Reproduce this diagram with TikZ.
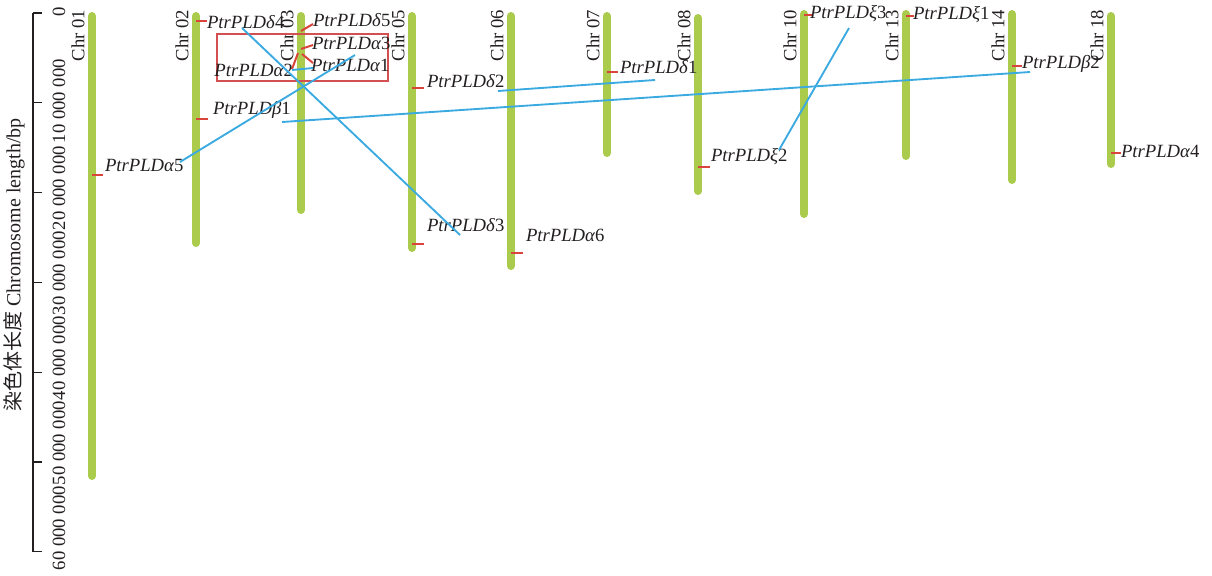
\documentclass[tikz,border=0pt]{standalone}
\usepackage{fontspec}
\setmainfont{Liberation Serif}
\newfontfamily\cjk{Noto Sans CJK SC}
\definecolor{chrgreen}{HTML}{AACB4C}
\definecolor{genered}{HTML}{D9443C}
\definecolor{synblue}{HTML}{3BAAE0}
\definecolor{boxred}{HTML}{D45050}
\definecolor{txt}{HTML}{231F20}
\newcommand{\chrdraw}[5]{% id, x, top, bottom, label
  \coordinate (#1t) at (#2,#3+4);
  \coordinate (#1b) at (#2,#4-4);
  \draw[chrom] (#1t) -- (#1b);
  \node[chrlab] (#1l) at (#2-14,10) {#5};
}
\newcommand{\gene}[8]{% id, x0, y0, x1, y1, labelx, labely, text
  \coordinate (#1s) at (#2,#3);
  \coordinate (#1e) at (#4,#5);
  \draw[gtick] (#1s) -- (#1e);
  \node[gname] (#1) at (#6,#7) {#8};
}
\newcommand{\pld}[2]{PtrPLD#1\textup{#2}}
\begin{document}
\begin{tikzpicture}[x=0.75pt,y=-0.75pt,
  every node/.style={inner sep=0pt, outer sep=0pt, text=txt},
  chrom/.style={line width=6pt, line cap=round, draw=chrgreen},
  gtick/.style={line width=1.5pt, draw=genered},
  gname/.style={font=\fontsize{14}{16}\selectfont\itshape, anchor=west},
  chrlab/.style={font=\fontsize{14}{16}\selectfont, rotate=90, anchor=east},
  ticklab/.style={font=\fontsize{14}{16}\selectfont, rotate=90},
  syn/.style={line width=1.4pt, draw=synblue},
  axisline/.style={line width=0.8pt, draw=txt},
]
\useasboundingbox (0,0) rectangle (1212,575);

% axis
\coordinate (axt) at (33,13);
\coordinate (axb) at (33,552);
\draw[axisline] (axt) -- (axb);
\foreach \i in {0,...,6} {
  \draw[axisline] (33,13+89.8*\i) -- (42,13+89.8*\i);
}
\node[ticklab] (t0) at (59,12) {0};
\node[ticklab] (t1) at (59,101) {10 000 000};
\node[ticklab] (t2) at (59,188) {20 000 000};
\node[ticklab] (t3) at (59,273) {30 000 000};
\node[ticklab] (t4) at (59,358) {40 000 000};
\node[ticklab] (t5) at (59,443) {50 000 000};
\node[ticklab] (t6) at (59,528) {60 000 000};
\node[ticklab, font=\fontsize{15}{17}\selectfont] (ytitle) at (14,265) {{\cjk 染色体长度} Chromosome length/bp};

% chromosomes
\chrdraw{c01}{92}{12}{480}{Chr 01}
\chrdraw{c02}{196}{12}{247}{Chr 02}
\chrdraw{c03}{301}{12}{214}{Chr 03}
\chrdraw{c05}{412}{12}{252}{Chr 05}
\chrdraw{c06}{511}{12}{270}{Chr 06}
\chrdraw{c07}{607}{12}{157}{Chr 07}
\chrdraw{c08}{698}{14}{195}{Chr 08}
\chrdraw{c10}{804}{10}{218}{Chr 10}
\chrdraw{c13}{906}{10}{160}{Chr 13}
\chrdraw{c14}{1012}{10}{184}{Chr 14}
\chrdraw{c18}{1111}{12}{168}{Chr 18}

% red box
\node[draw=boxred, line width=0.8pt, minimum width=171*0.75pt, minimum height=47*0.75pt, anchor=north west] (box) at (217,34) {};

% genes
\gene{a5}{92}{175}{103}{175}{105}{165}{\pld{α}{5}}
\gene{b1}{196}{119}{208}{119}{213}{110}{\pld{β}{1}}
\gene{d4}{196}{21}{207}{21}{207}{22}{\pld{δ}{4}}
\gene{d5}{301}{31}{313}{24}{313}{20}{\pld{δ}{5}}
\gene{a3}{301}{49}{313}{45}{312}{43}{\pld{α}{3}}
\gene{a1}{302}{54}{313}{63}{311}{65}{\pld{α}{1}}
\coordinate (a2s) at (298,53);
\coordinate (a2e) at (292,69);
\draw[gtick] (a2s) -- (a2e);
\node[gname, anchor=east] (a2) at (293,70) {\pld{α}{2}};
\gene{d2}{412}{88}{424}{88}{427}{81}{\pld{δ}{2}}
\gene{d3}{412}{244}{424}{244}{427}{225}{\pld{δ}{3}}
\gene{a6}{511}{253}{523}{253}{526}{235}{\pld{α}{6}}
\gene{d1}{607}{72}{618}{72}{620}{67}{\pld{δ}{1}}
\gene{x2}{698}{167}{710}{167}{711}{157}{\pld{ξ}{2}}
\gene{x3}{804}{15}{812}{15}{810}{14}{\pld{ξ}{3}}
\gene{x1}{906}{16}{914}{16}{913}{15}{\pld{ξ}{1}}
\gene{b2}{1012}{66}{1022}{66}{1022}{64}{\pld{β}{2}}
\gene{a4}{1111}{153}{1121}{153}{1121}{151}{\pld{α}{4}}

% synteny links
\coordinate (ld4) at (242,28);  \coordinate (ld3) at (460,235);
\coordinate (la5) at (180,162); \coordinate (la1) at (355,55);
\coordinate (la2) at (292,70);  \coordinate (la1b) at (313,68);
\coordinate (lb1) at (282,122); \coordinate (lb2) at (1030,72);
\coordinate (ld2) at (498,91);  \coordinate (ld1) at (655,80);
\coordinate (lx2) at (779,150); \coordinate (lx3) at (849,28);
\draw[syn] (ld4) -- (ld3);
\draw[syn] (la5) -- (la1);
\draw[syn] (la2) -- (la1b);
\draw[syn] (lb1) -- (lb2);
\draw[syn] (ld2) -- (ld1);
\draw[syn] (lx2) -- (lx3);
\end{tikzpicture}
\end{document}
